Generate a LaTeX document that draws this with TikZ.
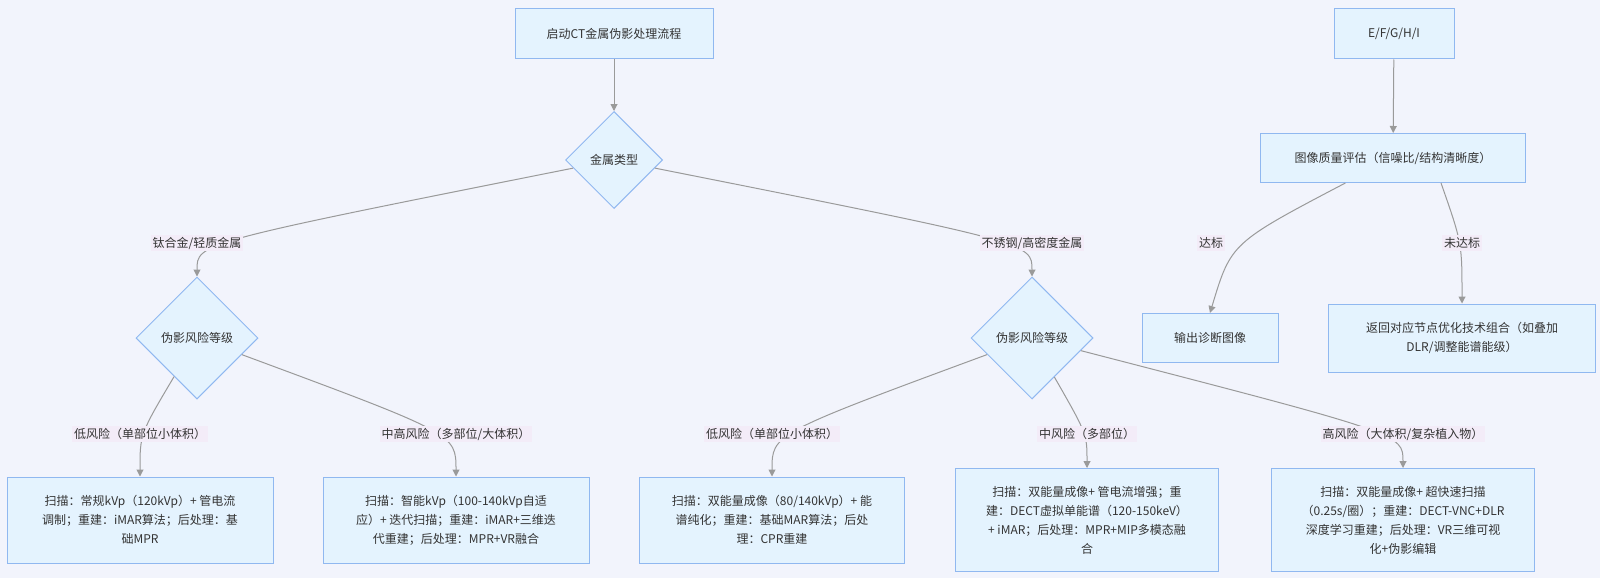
\documentclass[tikz,border=0pt]{standalone}
\usepackage{fontspec}
\setmainfont{Noto Sans CJK SC}
\usetikzlibrary{shapes.geometric,arrows.meta}
\definecolor{bgc}{HTML}{F2F4FC}
\definecolor{boxfill}{HTML}{E4F3FE}
\definecolor{boxline}{HTML}{90B8F0}
\definecolor{lblfill}{HTML}{F3ECF8}
\definecolor{linegray}{HTML}{9A9A9A}
\definecolor{txt}{HTML}{333333}
\begin{document}
\begin{tikzpicture}[x=1pt,y=-1pt,
    font=\fontsize{12}{19}\selectfont, text=txt,
    process/.style ={rectangle, draw=boxline, fill=boxfill, line width=1pt, align=center, inner sep=0pt},
    decision/.style ={diamond, aspect=1, draw=boxline, fill=boxfill, line width=1pt, inner sep=0pt},
    edgetext/.style ={fill=lblfill, inner sep=2pt},
    flow/.style ={draw=linegray, line width=1pt, -{Triangle[width=7pt,length=7pt]}}]
   \useasboundingbox[fill=bgc] (0,0) rectangle (1600,578);

   \node[process, minimum width=198pt, minimum height=50pt] (start) at (614,34) {启动CT金属伪影处理流程};
   \node[decision, minimum size=97pt] (metal) at (614,160) {金属类型};
   \node[decision, minimum size=122pt] (riskA) at (197,338) {伪影风险等级};
   \node[decision, minimum size=122pt] (riskB) at (1032,338) {伪影风险等级};

   \node[process, minimum width=266pt, minimum height=86pt] (scanA) at (140,520) {扫描：常规kVp（120kVp）+ 管电流\\调制；重建：iMAR算法；后处理：基\\础MPR};
   \node[process, minimum width=266pt, minimum height=86pt] (scanB) at (456,520) {扫描：智能kVp（100-140kVp自适\\应）+ 迭代扫描；重建：iMAR+三维迭\\代重建；后处理：MPR+VR融合};
   \node[process, minimum width=265pt, minimum height=86pt] (scanC) at (772,520) {扫描：双能量成像（80/140kVp）+ 能\\谱纯化；重建：基础MAR算法；后处\\理：CPR重建};
   \node[process, minimum width=263pt, minimum height=103pt] (scanD) at (1087,520) {扫描：双能量成像+ 管电流增强；重\\建：DECT虚拟单能谱（120-150keV）\\+ iMAR；后处理：MPR+MIP多模态融\\合};
   \node[process, minimum width=263pt, minimum height=103pt] (scanE) at (1403,520) {扫描：双能量成像+ 超快速扫描\\（0.25s/圈）；重建：DECT-VNC+DLR\\深度学习重建；后处理：VR三维可视\\化+伪影编辑};

   \node[process, minimum width=120pt, minimum height=50pt] (group) at (1394,34) {E/F/G/H/I};
   \node[process, minimum width=265pt, minimum height=49pt] (quality) at (1393,158) {图像质量评估（信噪比/结构清晰度）};
   \node[process, minimum width=136pt, minimum height=49pt] (output) at (1210,338) {输出诊断图像};
   \node[process, minimum width=267pt, minimum height=68pt] (retry) at (1462,338) {返回对应节点优化技术组合（如叠加\\DLR/调整能谱能级）};

   % label positions on the edges
   \coordinate (ti) at (197,243);
   \coordinate (ss) at (1032,243);
   \coordinate (lowA) at (140,434);
   \coordinate (highA) at (456,434);
   \coordinate (lowB) at (772,434);
   \coordinate (midB) at (1087,434);
   \coordinate (highB) at (1403,434);
   \coordinate (ok) at (1211,243);
   \coordinate (fail) at (1462,243);

   \draw[flow] (start) -- (metal);
   \draw[flow] (metal) .. controls (ti) .. (riskA.north);
   \draw[flow] (metal) .. controls (ss) .. (riskB.north);
   \draw[flow] (riskA) .. controls (lowA) .. (scanA.north);
   \draw[flow] (riskA) .. controls (highA) .. (scanB.north);
   \draw[flow] (riskB) .. controls (lowB) .. (scanC.north);
   \draw[flow] (riskB) .. controls (midB) .. (scanD.north);
   \draw[flow] (riskB) .. controls (highB) .. (scanE.north);
   \draw[flow] (group) -- (quality);
   \draw[flow] (quality) .. controls ([xshift=20pt]ok) .. (output.north);
   \draw[flow] ([xshift=48pt]quality.south) .. controls (fail) .. (retry.north);

   \node[edgetext] (tiLbl) at (ti) {钛合金/轻质金属};
   \node[edgetext] (ssLbl) at (ss) {不锈钢/高密度金属};
   \node[edgetext] (lowALbl) at (lowA) {低风险（单部位小体积）};
   \node[edgetext] (highALbl) at (highA) {中高风险（多部位/大体积）};
   \node[edgetext] (lowBLbl) at (lowB) {低风险（单部位小体积）};
   \node[edgetext] (midBLbl) at (midB) {中风险（多部位）};
   \node[edgetext] (highBLbl) at (highB) {高风险（大体积/复杂植入物）};
   \node[edgetext] (okLbl) at (ok) {达标};
   \node[edgetext] (failLbl) at (fail) {未达标};
 \end{tikzpicture}
\end{document}
